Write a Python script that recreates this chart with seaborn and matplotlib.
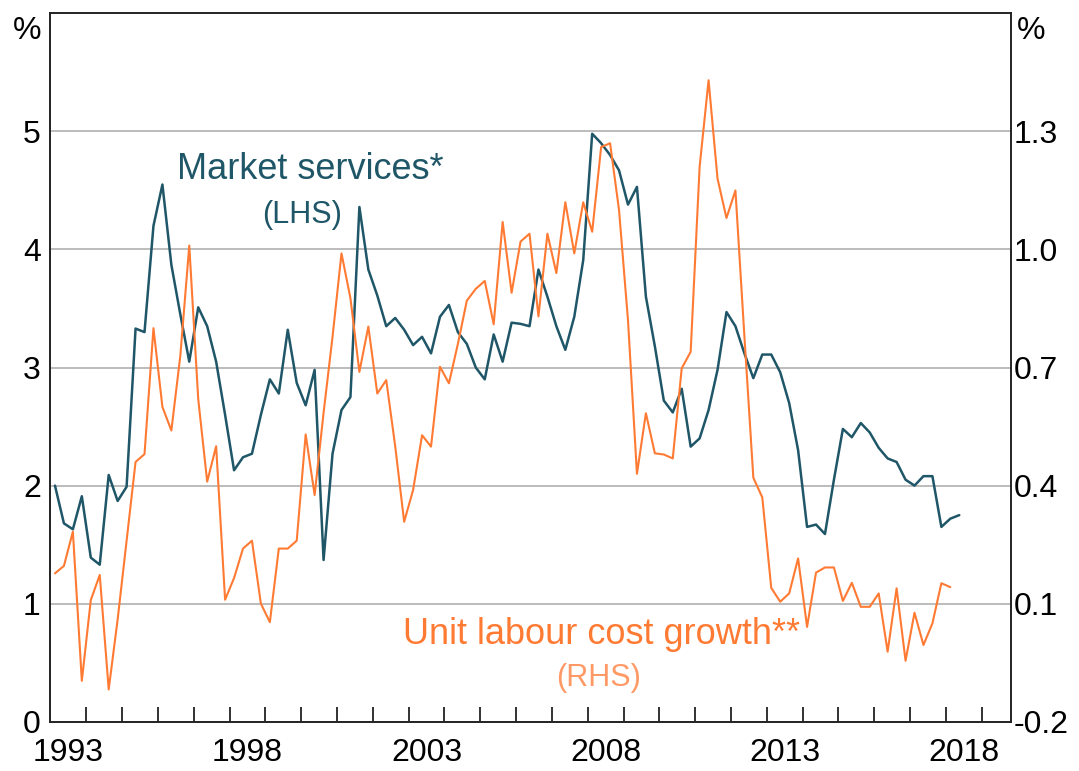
import numpy as np
import pandas as pd
import matplotlib
matplotlib.use("Agg")
import matplotlib.pyplot as plt
import seaborn as sns

# --- data (quarterly, year-ended growth) ---
start_quarter = "1993Q1"

market_services = [
    2.00, 1.68, 1.63, 1.91, 1.39, 1.33, 2.09, 1.87, 1.99, 3.33,
    3.30, 4.20, 4.55, 3.87, 3.45, 3.05, 3.51, 3.35, 3.05, 2.60,
    2.13, 2.24, 2.27, 2.60, 2.90, 2.78, 3.32, 2.87, 2.68, 2.98,
    1.37, 2.27, 2.64, 2.75, 4.36, 3.83, 3.61, 3.35, 3.42, 3.32,
    3.19, 3.26, 3.12, 3.43, 3.53, 3.30, 3.20, 3.00, 2.90, 3.28,
    3.05, 3.38, 3.37, 3.35, 3.83, 3.60, 3.35, 3.15, 3.43, 3.91,
    4.98, 4.90, 4.80, 4.67, 4.38, 4.53, 3.60, 3.18, 2.72, 2.62,
    2.82, 2.33, 2.40, 2.64, 2.98, 3.47, 3.35, 3.12, 2.91, 3.11,
    3.11, 2.96, 2.70, 2.30, 1.65, 1.67, 1.59, 2.05, 2.48, 2.41,
    2.53, 2.45, 2.32, 2.23, 2.20, 2.05, 2.00, 2.08, 2.08, 1.65,
    1.72, 1.75,
]

unit_labour_cost = [
    0.177, 0.196, 0.283, -0.096, 0.109, 0.173, -0.118, 0.06, 0.26, 0.46,
    0.48, 0.80, 0.60, 0.54, 0.73, 1.01, 0.62, 0.41, 0.50, 0.11,
    0.165, 0.24, 0.26, 0.10, 0.053, 0.24, 0.24, 0.26, 0.53, 0.376,
    0.585, 0.778, 0.99, 0.876, 0.689, 0.804, 0.634, 0.668, 0.50, 0.308,
    0.389, 0.528, 0.499, 0.702, 0.66, 0.76, 0.87, 0.90, 0.92, 0.81,
    1.07, 0.89, 1.02, 1.04, 0.83, 1.04, 0.94, 1.12, 0.99, 1.12,
    1.045, 1.26, 1.27, 1.10, 0.82, 0.43, 0.584, 0.482, 0.479, 0.469,
    0.698, 0.74, 1.21, 1.43, 1.18, 1.08, 1.15, 0.78, 0.42, 0.37,
    0.14, 0.105, 0.126, 0.215, 0.041, 0.179, 0.192, 0.192, 0.107, 0.153,
    0.092, 0.092, 0.126, -0.022, 0.139, -0.045, 0.077, -0.005, 0.050, 0.152,
    0.142,
]

year_labels = [1993, 1998, 2003, 2008, 2013, 2018]
left_ticks = [0, 1, 2, 3, 4, 5]
right_ticks = [-0.2, 0.1, 0.4, 0.7, 1.0, 1.3]

TEAL = "#1f5668"
ORANGE = "#ff7a33"
ORANGE_LIGHT = "#ff9a66"

# --- build frames: x = mid-quarter as decimal year ---
def quarter_frame(values, name):
    q = pd.period_range(start_quarter, periods=len(values), freq="Q")
    x = q.year + (q.quarter - 1) * 0.25 + 0.125
    return pd.DataFrame({"date": x, name: values})

ms = quarter_frame(market_services, "ms")
ulc = quarter_frame(unit_labour_cost, "ulc")

# --- style ---
sns.set_style("white")
plt.rcParams["font.family"] = ["Liberation Sans", "DejaVu Sans"]
plt.rcParams["text.color"] = "black"
plt.rcParams["xtick.color"] = "black"
plt.rcParams["ytick.color"] = "black"

fig = plt.figure(figsize=(10.79, 7.71), dpi=100)
ax = fig.add_axes([0.0468, 0.0639, 0.8902, 0.9188])
ax2 = ax.twinx()

sns.lineplot(data=ms, x="date", y="ms", ax=ax, color=TEAL, linewidth=1.8)
sns.lineplot(data=ulc, x="date", y="ulc", ax=ax2, color=ORANGE, linewidth=1.5)

# axes limits
ax.set_xlim(1993.0, 2019.82)
ax.set_ylim(0, 6)
ax2.set_ylim(-0.2, 1.6)

# y ticks
ax.set_yticks(left_ticks)
ax.set_yticklabels([str(t) for t in left_ticks])
ax2.set_yticks(right_ticks)
ax2.set_yticklabels([f"{t:.1f}" for t in right_ticks])
ax.tick_params(axis="y", length=0, pad=7, labelsize=23, labelcolor="black")
ax2.tick_params(axis="y", length=0, pad=2, labelsize=23, labelcolor="black")

# x ticks: labels mid-year, tick marks at year boundaries
ax.set_xticks([y + 0.5 for y in year_labels])
ax.set_xticklabels([str(y) for y in year_labels])
ax.set_xticks(np.arange(1994, 2020), minor=True)
ax.tick_params(axis="x", which="major", length=0, pad=12, labelsize=23,
               labelcolor="black")
ax.tick_params(axis="x", which="minor", direction="in", length=11,
               width=1.3, color="#222222", bottom=True)

ax.set_xlabel("")
ax.set_ylabel("")
ax2.set_ylabel("")

# grid
ax.yaxis.grid(True, color="#aaaaaa", linewidth=1.1)
ax.xaxis.grid(False)
ax2.grid(False)

for a in (ax, ax2):
    for s in a.spines.values():
        s.set_visible(True)
        s.set_color("#222222")
        s.set_linewidth(1.2)

# labels on the chart
ax.text(2000.26, 4.68, "Market services*", color=TEAL, fontsize=26,
        ha="center", va="center")
ax.text(2000.03, 4.29, "(LHS)", color=TEAL, fontsize=22,
        ha="center", va="center")
ax.text(2008.39, 0.74, "Unit labour cost growth**", color=ORANGE,
        fontsize=26, ha="center", va="center")
ax.text(2008.3, 0.37, "(RHS)", color=ORANGE_LIGHT, fontsize=22,
        ha="center", va="center")

fig.text(0.025, 0.96, "%", fontsize=23, ha="center", va="center", color="black")
fig.text(0.9555, 0.96, "%", fontsize=23, ha="center", va="center", color="black")

fig.savefig("out.png", dpi=100)
